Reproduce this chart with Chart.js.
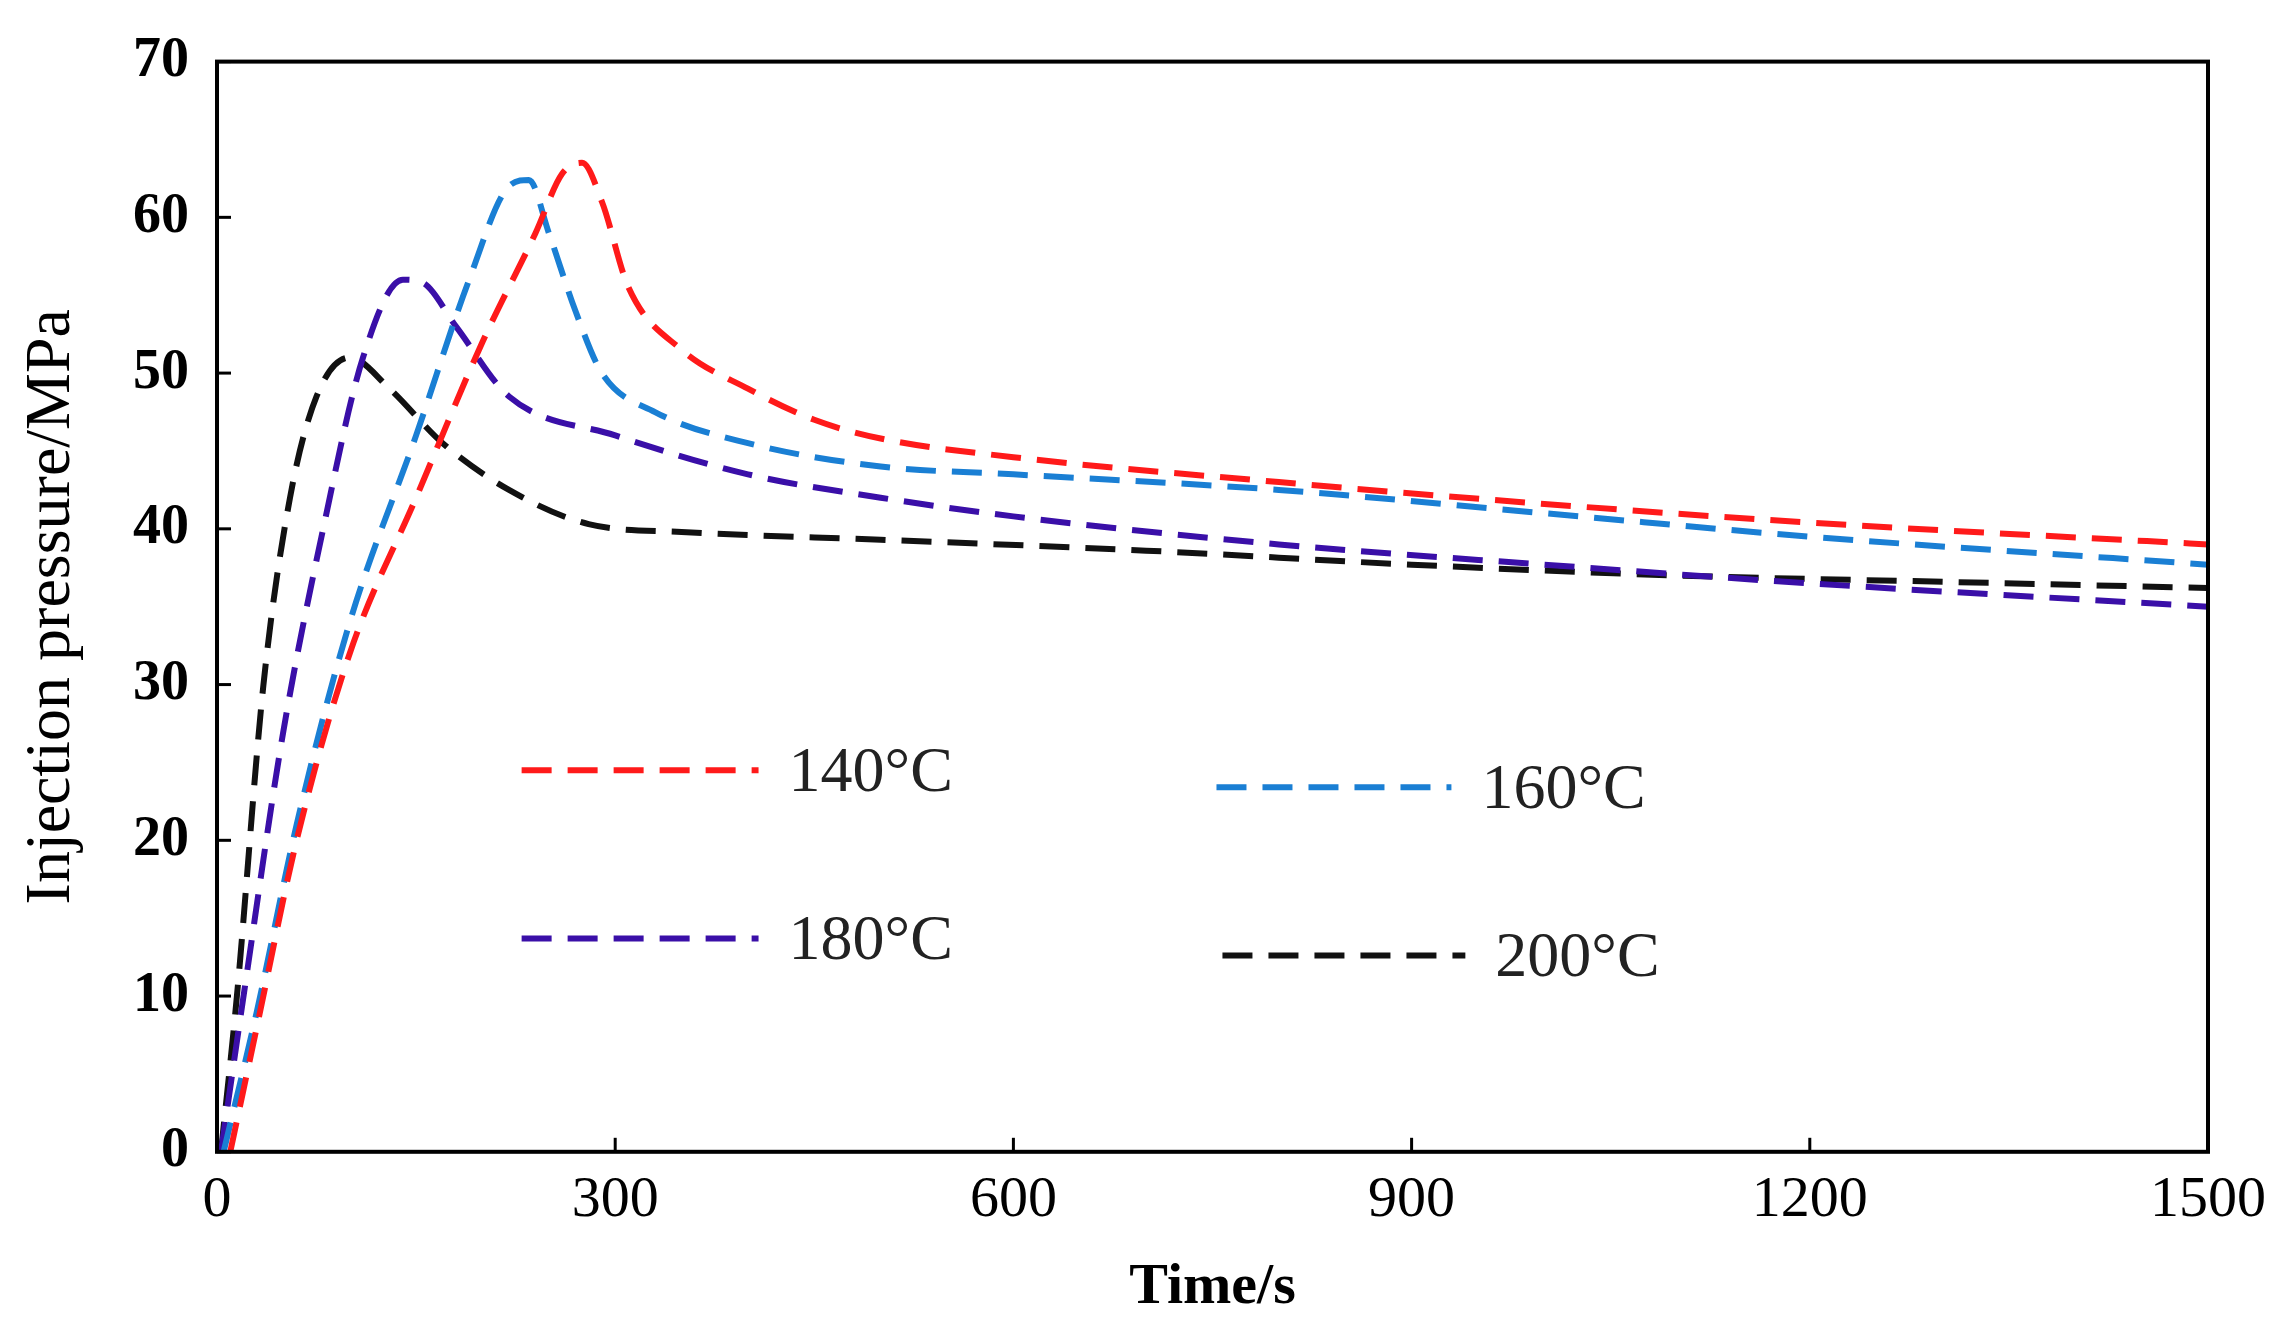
<!DOCTYPE html>
<html>
<head>
<meta charset="utf-8">
<script src="https://cdn.jsdelivr.net/npm/chart.js@4/dist/chart.umd.min.js"></script>
<style>
  html, body { margin: 0; padding: 0; background: #fff; }
  #wrap { width: 2296px; height: 1331px; }
</style>
</head>
<body>
<div id="wrap"><canvas id="grafico"></canvas></div>
<script>
// valores (tempo em s, pressão em MPa)
const series = ['140°C', '160°C', '180°C', '200°C'];
const cores = ['#ff1a1a', '#1a7fd4', '#3a0fa8', '#111111'];

const t140 = [10, 30, 60, 100, 150, 200, 240, 260, 275, 290, 310, 350, 400, 450, 500, 600, 800, 1000, 1200, 1500];
const p140 = [0, 8, 20, 32, 42, 52, 59, 62.8, 63.5, 61, 55.5, 51.5, 49, 47, 45.8, 44.6, 43, 41.6, 40.4, 39];

const t160 = [5, 30, 60, 100, 150, 190, 220, 235, 250, 270, 290, 330, 400, 500, 600, 800, 1000, 1200, 1500];
const p160 = [0, 9, 21, 34, 46, 56, 62, 62.4, 59, 54, 50, 47.5, 45.5, 44, 43.5, 42.5, 41, 39.5, 37.7];

const t180 = [3, 20, 50, 80, 110, 140, 155, 180, 220, 300, 400, 500, 600, 800, 1000, 1200, 1500];
const p180 = [0, 10, 27, 40, 51, 56, 55.8, 53, 48.5, 46, 43.5, 42, 40.8, 39, 37.7, 36.5, 35];

const t200 = [3, 15, 35, 55, 75, 100, 130, 170, 220, 280, 350, 500, 700, 900, 1100, 1300, 1500];
const p200 = [0, 10, 30, 42, 48.5, 51, 49, 45.5, 42.5, 40.3, 39.8, 39.3, 38.6, 37.7, 37, 36.6, 36.2];

const xTicks = [0, 300, 600, 900, 1200, 1500];
const yTicks = [0, 10, 20, 30, 40, 50, 60, 70];

// posição da legenda (fração da área do gráfico): linha x0, x1, y em valor
const legendaPos = [
  { x0: 0.153, x1: 0.272, y: 24.5 },
  { x0: 0.502, x1: 0.620, y: 23.4 },
  { x0: 0.153, x1: 0.272, y: 13.7 },
  { x0: 0.505, x1: 0.627, y: 12.6 }
];

const tempos = [t140, t160, t180, t200];
const pressoes = [p140, p160, p180, p200];
const fonte = '"Liberation Serif", "Times New Roman", serif';

const datasets = series.map((nome, i) => ({
  label: nome,
  data: tempos[i].map((t, k) => ({ x: t, y: pressoes[i][k] })),
  borderColor: cores[i],
  borderWidth: 6,
  borderDash: [30, 16],
  pointRadius: 0,
  cubicInterpolationMode: 'monotone',
  fill: false
}));

// ticks internos, moldura e legenda desenhados depois
const extras = {
  id: 'extras',
  afterDraw(chart) {
    const { ctx, chartArea: a, scales } = chart;
    ctx.save();
    ctx.strokeStyle = '#000';
    ctx.lineWidth = 4;
    ctx.strokeRect(a.left, a.top, a.right - a.left, a.bottom - a.top);
    ctx.lineWidth = 3;
    xTicks.forEach(v => {
      const px = scales.x.getPixelForValue(v);
      ctx.beginPath(); ctx.moveTo(px, a.bottom); ctx.lineTo(px, a.bottom - 14); ctx.stroke();
    });
    yTicks.forEach(v => {
      const py = scales.y.getPixelForValue(v);
      ctx.beginPath(); ctx.moveTo(a.left, py); ctx.lineTo(a.left + 14, py); ctx.stroke();
    });
    const w = a.right - a.left;
    ctx.font = '64px ' + fonte;
    ctx.textBaseline = 'middle';
    legendaPos.forEach((p, i) => {
      const x0 = a.left + p.x0 * w, x1 = a.left + p.x1 * w;
      const y = scales.y.getPixelForValue(p.y);
      ctx.strokeStyle = cores[i];
      ctx.lineWidth = 6;
      ctx.setLineDash([30, 16]);
      ctx.beginPath(); ctx.moveTo(x0, y); ctx.lineTo(x1, y); ctx.stroke();
      ctx.setLineDash([]);
      ctx.fillStyle = '#222';
      ctx.fillText(series[i], x1 + 30, y + 4);
    });
    ctx.restore();
  }
};

new Chart(document.getElementById('grafico'), {
  type: 'line',
  data: { datasets },
  options: {
    responsive: true,
    maintainAspectRatio: false,
    animation: false,
    layout: { padding: { top: 13, right: 88, left: 10, bottom: 4 } },
    plugins: { legend: { display: false }, tooltip: { enabled: false } },
    scales: {
      x: {
        type: 'linear', min: 0, max: 1500,
        afterBuildTicks: s => { s.ticks = xTicks.map(v => ({ value: v })); },
        grid: { display: false, drawTicks: false },
        border: { display: false },
        ticks: { color: '#000', font: { family: fonte, size: 58 }, padding: 14, maxRotation: 0, callback: v => String(v) },
        title: { display: true, text: 'Time/s', color: '#000', font: { family: fonte, size: 58, weight: 'bold' }, padding: { top: 4 } }
      },
      y: {
        min: 0, max: 70,
        afterBuildTicks: s => { s.ticks = yTicks.map(v => ({ value: v })); },
        afterFit: s => { s.width = 207; },
        grid: { display: false, drawTicks: false },
        border: { display: false },
        ticks: { color: '#000', font: { family: fonte, size: 56, weight: 'bold' }, padding: 28, callback: v => String(v) },
        title: { display: true, text: 'Injection pressure/MPa', color: '#000', font: { family: fonte, size: 64 }, padding: { bottom: 0 } }
      }
    }
  },
  plugins: [extras]
});
</script>
</body>
</html>
